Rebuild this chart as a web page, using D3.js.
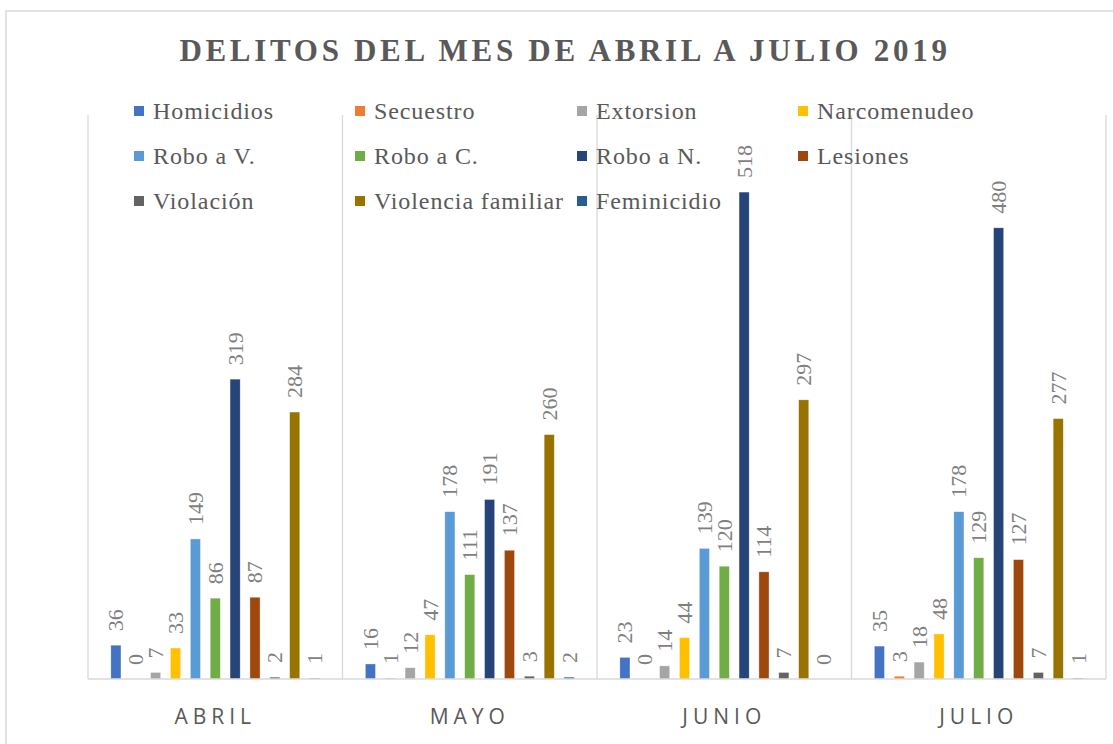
<!DOCTYPE html>
<html>
<head>
<meta charset="utf-8">
<script src="https://cdn.jsdelivr.net/npm/d3@7"></script>
<style>
	body{margin:0;background:#fff;}
	svg{display:block;}
	.serif{font-family:"Times New Roman","Liberation Serif","DejaVu Serif","Noto Serif",serif;}
	.sans{font-family:"Open Sans","Liberation Sans",sans-serif;}
</style>
</head>
<body>
<svg width="1113" height="744"></svg>
<script>
(()=>{
	//data
	let months = ["ABRIL","MAYO","JUNIO","JULIO"];
	let series = ["Homicidios","Secuestro","Extorsion","Narcomenudeo","Robo a V.","Robo a C.","Robo a N.","Lesiones","Violación","Violencia familiar","Feminicidio"];
	let homicidios = [36,16,23,35];
	let secuestro = [0,1,0,3];
	let extorsion = [7,12,14,18];
	let narcomenudeo = [33,47,44,48];
	let roboV = [149,178,139,178];
	let roboC = [86,111,120,129];
	let roboN = [319,191,518,480];
	let lesiones = [87,137,114,127];
	let violacion = [2,3,7,7];
	let violenciaFam = [284,260,297,277];
	let feminicidio = [1,2,0,1];
	let colors = ["#4472C4","#ED7D31","#A5A5A5","#FFC000","#5B9BD5","#70AD47","#264478","#9E480E","#636363","#997300","#255E91"];

	let values = [homicidios,secuestro,extorsion,narcomenudeo,roboV,roboC,roboN,lesiones,violacion,violenciaFam,feminicidio];

	let svg = d3.select("svg");

	//chart border
	svg.append("rect")
		.attr("x",6).attr("y",11).attr("width",1110).attr("height",750)
		.attr("fill","none").attr("stroke","#d9d9d9").attr("stroke-width",1.5);

	//title
	svg.append("text")
		.attr("class","serif")
		.attr("x",565).attr("y",61)
		.attr("text-anchor","middle")
		.style("font-weight","bold").style("font-size","31px")
		.style("letter-spacing","3.7px")
		.attr("fill","#595959")
		.text("DELITOS DEL MES DE ABRIL A JULIO 2019");

	//scales
	let x0 = d3.scaleBand().domain(months).range([88,1106]);
	let x1 = d3.scaleBand().domain(series).range([0,x0.bandwidth()]).paddingInner(0.49).paddingOuter(1.15);
	let y = d3.scaleLinear().domain([0,600]).range([679,115]);

	//gridlines at category borders
	let g = svg.append("g");
	let borders = months.map(m=>x0(m)).concat([x0.range()[1]]);
	g.selectAll(".grid").data(borders).enter()
		.append("line")
		.attr("class","grid")
		.attr("x1",d=>d).attr("x2",d=>d)
		.attr("y1",y(600)).attr("y2",y(0))
		.attr("stroke","#d9d9d9").attr("stroke-width",1.3);

	//bars
	let rows = [];
	series.forEach((s,i)=>{
		months.forEach((m,j)=>{
			rows.push({series:s, month:m, value:values[i][j], color:colors[i]});
		});
	});

	g.selectAll(".bar").data(rows).enter()
		.append("rect")
		.attr("class","bar")
		.attr("x",d=>x0(d.month)+x1(d.series))
		.attr("y",d=>y(d.value))
		.attr("width",x1.bandwidth())
		.attr("height",d=>y(0)-y(d.value))
		.attr("fill",d=>d.color)
		.attr("stroke","#fff").attr("stroke-width",0.6).attr("stroke-opacity",0.6);

	//axis line
	g.append("line")
		.attr("x1",x0.range()[0]).attr("x2",x0.range()[1])
		.attr("y1",y(0)).attr("y2",y(0))
		.attr("stroke","#d9d9d9").attr("stroke-width",1.5);

	//value labels, rotated
	g.selectAll(".vlabel").data(rows).enter()
		.append("text")
		.attr("class","vlabel serif")
		.attr("transform",d=>"translate("+(x0(d.month)+x1(d.series)+x1.bandwidth()/2)+","+(y(d.value)-14)+") rotate(-90)")
		.attr("dominant-baseline","central")
		.style("font-size","22px")
		.attr("fill","#7f7f7f")
		.text(d=>d.value);

	//category labels
	g.selectAll(".xlabel").data(months).enter()
		.append("text")
		.attr("class","xlabel sans")
		.attr("x",d=>x0(d)+x0.bandwidth()/2)
		.attr("y",724)
		.attr("text-anchor","middle")
		.style("font-size","21px")
		.style("letter-spacing","5px")
		.attr("fill","#595959")
		.text(d=>d);

	//legend
	let colX = [134,355,577,798];
	let rowY = [111,156,201];
	let legend = svg.append("g");
	series.forEach((s,i)=>{
		let lx = colX[i%4], ly = rowY[Math.floor(i/4)];
		let item = legend.append("g").attr("transform","translate("+lx+","+ly+")");
		item.append("rect").attr("x",0).attr("y",-5).attr("width",10).attr("height",10).attr("fill",colors[i]);
		item.append("text")
			.attr("class","serif")
			.attr("x",19).attr("y",0)
			.attr("dominant-baseline","central")
			.style("font-size","24px")
			.style("letter-spacing","0.9px")
			.attr("fill","#595959")
			.text(s);
	});
})();
</script>
</body>
</html>
